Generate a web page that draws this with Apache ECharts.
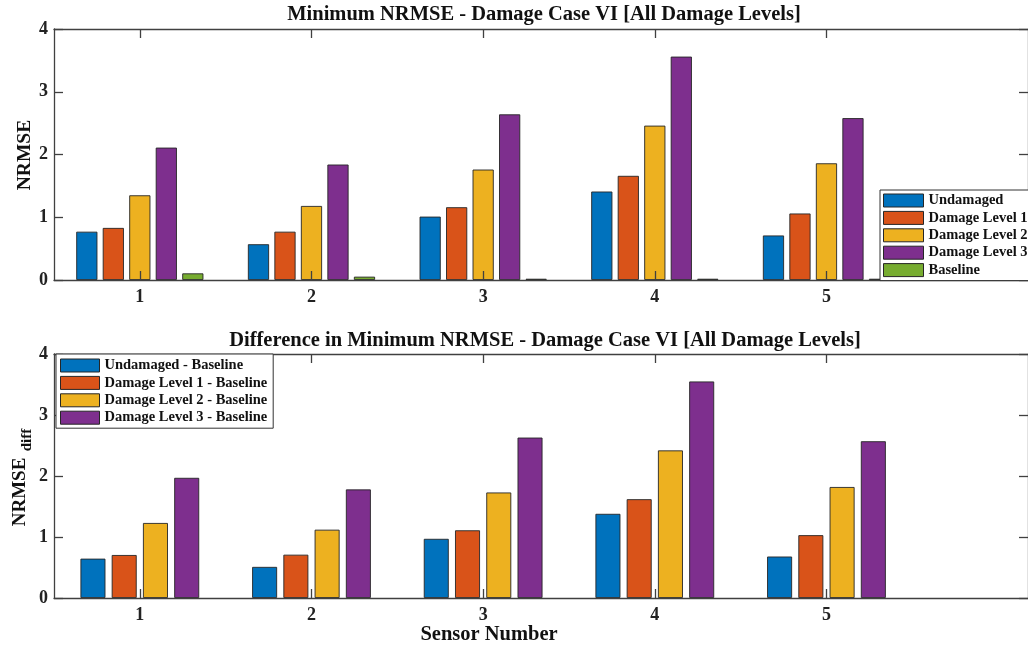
<!DOCTYPE html>
<html>
<head>
<meta charset="utf-8">
<script src="https://cdn.jsdelivr.net/npm/echarts@6/dist/echarts.min.js"></script>
<style>
html,body{margin:0;padding:0;background:#fff;}
#c{width:1028px;height:647px;}
</style>
</head>
<body>
<div id="c"></div>
<script>
// ---- data ----
const sensors = [1, 2, 3, 4, 5];
const undamaged = [0.77, 0.57, 1.01, 1.41, 0.71];
const level1 = [0.83, 0.77, 1.16, 1.66, 1.06];
const level2 = [1.35, 1.18, 1.76, 2.46, 1.86];
const level3 = [2.11, 1.84, 2.64, 3.56, 2.58];
const baseline = [0.106, 0.053, 0.02, 0.02, 0.02];

const diffUndamaged = [0.645, 0.51, 0.97, 1.38, 0.68];
const diffLevel1 = [0.705, 0.71, 1.11, 1.62, 1.03];
const diffLevel2 = [1.23, 1.12, 1.73, 2.42, 1.82];
const diffLevel3 = [1.97, 1.78, 2.63, 3.55, 2.57];

const yTicks = [0, 1, 2, 3, 4];

const topNames = ['Undamaged', 'Damage Level 1', 'Damage Level 2', 'Damage Level 3', 'Baseline'];
const botNames = ['Undamaged - Baseline', 'Damage Level 1 - Baseline', 'Damage Level 2 - Baseline', 'Damage Level 3 - Baseline'];
const colors = ['#0072BD', '#D95319', '#EDB120', '#7E2F8E', '#77AC30'];

// ---- chart ----
const FONT = 'Liberation Serif';
const axisCol = '#404040';
const chart = echarts.init(document.getElementById('c'), null, {renderer: 'canvas'});

function pairs(vals) { return sensors.map((s, i) => [s, vals[i]]); }

function xAxes(gridIndex) {
  const base = {
    type: 'value', gridIndex: gridIndex, min: 0.5, max: 6.174, z: 3,
    axisLine: {show: true, onZero: false, lineStyle: {color: axisCol, width: 1.3}},
    splitLine: {show: false}
  };
  return [
    Object.assign({}, base, {
      position: 'bottom',
      axisTick: {show: true, inside: true, length: 9, customValues: sensors, lineStyle: {color: axisCol, width: 1.3}},
      axisLabel: {show: true, customValues: sensors, margin: 8, fontFamily: FONT, fontWeight: 'bold', fontSize: 18, color: '#222'}
    }),
    Object.assign({}, base, {
      position: 'top',
      axisTick: {show: true, inside: true, length: 9, customValues: sensors, lineStyle: {color: axisCol, width: 1.3}},
      axisLabel: {show: false}
    })
  ];
}
function yAxes(gridIndex) {
  const base = {
    type: 'value', gridIndex: gridIndex, min: 0, max: 4, interval: 1, z: 3,
    axisLine: {show: true, lineStyle: {color: axisCol, width: 1.3}},
    axisTick: {show: true, inside: true, length: 9, lineStyle: {color: axisCol, width: 1.3}},
    splitLine: {show: false}
  };
  return [
    Object.assign({}, base, {position: 'left',
      axisLabel: {show: true, margin: 6, fontFamily: FONT, fontWeight: 'bold', fontSize: 18, color: '#222'}}),
    Object.assign({}, base, {position: 'right', axisLabel: {show: false}})
  ];
}

const topVals = [undamaged, level1, level2, level3, baseline];
const botVals = [diffUndamaged, diffLevel1, diffLevel2, diffLevel3];

const series = [];
topVals.forEach((v, i) => series.push({
  type: 'bar', name: topNames[i], xAxisIndex: 0, yAxisIndex: 0,
  data: pairs(v), barWidth: 21.2, barGap: '25%',
  itemStyle: {color: colors[i], borderColor: '#262626', borderWidth: 0.9},
  emphasis: {disabled: true}, animation: false
}));
botVals.forEach((v, i) => series.push({
  type: 'bar', name: botNames[i], xAxisIndex: 2, yAxisIndex: 2,
  data: pairs(v), barWidth: 25, barGap: '25%',
  itemStyle: {color: colors[i], borderColor: '#262626', borderWidth: 0.9},
  emphasis: {disabled: true}, animation: false
}));

const legendText = {fontFamily: FONT, fontWeight: 'bold', fontSize: 14.5, color: '#111', lineHeight: 15};

const option = {
  backgroundColor: '#fff',
  animation: false,
  title: [
    {text: 'Minimum NRMSE - Damage Case VI [All Damage Levels]', left: 544, top: 4, padding: 0, textAlign: 'center',
     textStyle: {fontFamily: FONT, fontWeight: 'bold', fontSize: 20.5, color: '#111'}},
    {text: 'Difference in Minimum NRMSE - Damage Case VI [All Damage Levels]', left: 545, top: 330, padding: 0, textAlign: 'center',
     textStyle: {fontFamily: FONT, fontWeight: 'bold', fontSize: 20.5, color: '#111'}}
  ],
  grid: [
    {left: 54, top: 29, width: 976, height: 251},
    {left: 54, top: 354, width: 976, height: 244}
  ],
  xAxis: xAxes(0).concat(xAxes(1)),
  yAxis: yAxes(0).concat(yAxes(1)),
  legend: [
    {data: topNames, orient: 'vertical', left: 880, top: 190, itemWidth: 40, itemHeight: 13, itemGap: 2.4,
     padding: [3, 6, 3, 3], borderColor: '#333', borderWidth: 1, backgroundColor: '#fff', borderRadius: 0,
     icon: 'rect', itemStyle: {borderColor: '#262626', borderWidth: 1}, textStyle: legendText, selectedMode: false},
    {data: botNames, orient: 'vertical', left: 56, top: 354, itemWidth: 39, itemHeight: 13, itemGap: 2.4,
     padding: [4, 6, 3, 4], borderColor: '#333', borderWidth: 1, backgroundColor: '#fff', borderRadius: 0,
     icon: 'rect', itemStyle: {borderColor: '#262626', borderWidth: 1}, textStyle: legendText, selectedMode: false}
  ],
  graphic: [
    {type: 'text', x: 25, y: 155, rotation: Math.PI / 2,
     style: {text: 'NRMSE', align: 'center', verticalAlign: 'middle', font: 'bold 19.5px "Liberation Serif"', fill: '#111'}},
    {type: 'text', x: 20, y: 492, rotation: Math.PI / 2,
     style: {text: 'NRMSE', align: 'center', verticalAlign: 'middle', font: 'bold 19px "Liberation Serif"', fill: '#111'}},
    {type: 'text', x: 27, y: 440, rotation: Math.PI / 2,
     style: {text: 'diff', align: 'center', verticalAlign: 'middle', font: 'bold 15px "Liberation Serif"', fill: '#111'}},
    {type: 'text', x: 489, y: 635,
     style: {text: 'Sensor Number', align: 'center', verticalAlign: 'middle', font: 'bold 20.5px "Liberation Serif"', fill: '#111'}}
  ],
  series: series
};
chart.setOption(option);
</script>
</body>
</html>
